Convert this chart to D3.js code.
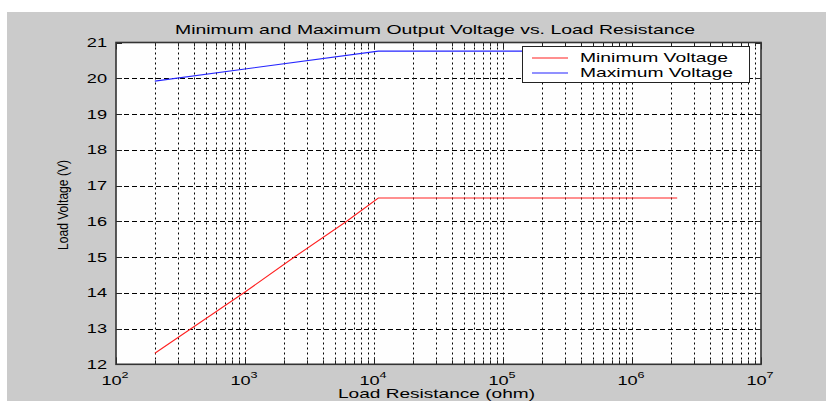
<!DOCTYPE html>
<html><head><meta charset="utf-8">
<script src="https://cdn.jsdelivr.net/npm/d3@7"></script>
<style>body{margin:0;background:#fff;}svg{display:block;}text{font-family:Arial,"Liberation Sans",sans-serif;fill:#000;}</style>
</head><body><svg id="c" width="826" height="401"></svg>
<script>
// Data
const titleText = "Minimum and Maximum Output Voltage vs. Load Resistance";
const xLabel = "Load Resistance (ohm)";
const yLabel = "Load Voltage (V)";
const seriesNames = ["Minimum Voltage", "Maximum Voltage"];
const minR = [200, 1000, 2415, 6140, 10800, 2240000];
const minV = [12.31, 14.02, 15.0, 16.0, 16.65, 16.65];
const maxR = [200, 1000, 10800, 2240000];
const maxV = [19.92, 20.26, 20.76, 20.76];
const xDomain = [1e2, 1e7];
const yDomain = [12, 21];
const yTicks = [12, 13, 14, 15, 16, 17, 18, 19, 20, 21];
const xExponents = [2, 3, 4, 5, 6, 7];

const svg = d3.select("#c");
const L = 116, R = 761, T = 42.5, B = 364.3;
const x = d3.scaleLog().domain(xDomain).range([L, R]);
const y = d3.scaleLinear().domain(yDomain).range([B, T]);

// figure background
svg.append("rect").attr("x", 7).attr("y", 12).attr("width", 826 - 7).attr("height", 401 - 12).attr("fill", "#cbcbcb");
svg.append("rect").attr("x", L).attr("y", T).attr("width", R - L).attr("height", B - T).attr("fill", "#fefefe");

// grid
const minorTicks = x.ticks().filter(v => v > xDomain[0] && v < xDomain[1]);
svg.append("g").selectAll("line").data(minorTicks).join("line")
  .attr("x1", d => Math.round(x(d)) + 0.5).attr("x2", d => Math.round(x(d)) + 0.5)
  .attr("y1", T).attr("y2", B)
  .attr("stroke", "#000").attr("stroke-width", 1).attr("stroke-dasharray", "2,3");
svg.append("g").selectAll("line").data(yTicks.slice(1, -1)).join("line")
  .attr("x1", L).attr("x2", R)
  .attr("y1", d => Math.round(y(d)) + 0.5).attr("y2", d => Math.round(y(d)) + 0.5)
  .attr("stroke", "#000").attr("stroke-width", 1).attr("stroke-dasharray", "5,3");

// ticks
const decades = xExponents.map(e => Math.pow(10, e));
const tk = svg.append("g").attr("stroke", "#222").attr("stroke-width", 1);
decades.forEach(d => {
  const px = Math.round(x(d)) + 0.5;
  tk.append("line").attr("x1", px).attr("x2", px).attr("y1", B).attr("y2", B - 7);
  tk.append("line").attr("x1", px).attr("x2", px).attr("y1", T).attr("y2", T + 7);
});
minorTicks.forEach(d => {
  const px = Math.round(x(d)) + 0.5;
  tk.append("line").attr("x1", px).attr("x2", px).attr("y1", B).attr("y2", B - 4);
  tk.append("line").attr("x1", px).attr("x2", px).attr("y1", T).attr("y2", T + 4);
});
yTicks.forEach(d => {
  const py = Math.round(y(d)) + 0.5;
  tk.append("line").attr("x1", L).attr("x2", L + 6).attr("y1", py).attr("y2", py);
  tk.append("line").attr("x1", R).attr("x2", R - 6).attr("y1", py).attr("y2", py);
});

// lines
const line = d3.line().x(d => x(d[0])).y(d => y(d[1]));
svg.append("path").datum(d3.zip(minR, minV)).attr("d", line)
  .attr("fill", "none").attr("stroke", "#ff2020").attr("stroke-width", 1.1);
svg.append("path").datum(d3.zip(maxR, maxV)).attr("d", line)
  .attr("fill", "none").attr("stroke", "#2525ff").attr("stroke-width", 1.1);

// axes box
svg.append("rect").attr("x", L).attr("y", T).attr("width", R - L).attr("height", B - T)
  .attr("fill", "none").attr("stroke", "#333").attr("stroke-width", 1.6);

// y tick labels
yTicks.forEach(d => {
  svg.append("text").attr("transform", `translate(107,${y(d) + 4.5}) scale(1.4,1)`)
    .attr("text-anchor", "end").attr("font-size", 13).text(d);
});
// x tick labels
xExponents.forEach(e => {
  const t = svg.append("text").attr("transform", `translate(${x(Math.pow(10, e)) - 1},385) scale(1.4,1)`)
    .attr("text-anchor", "middle").attr("font-size", 13);
  t.append("tspan").text("10");
  t.append("tspan").attr("dy", -7).attr("font-size", 9).text(e);
});

// title and labels
svg.append("text").attr("x", 175).attr("y", 33.5).attr("font-size", 13)
  .attr("textLength", 520).attr("lengthAdjust", "spacingAndGlyphs").text(titleText);
svg.append("text").attr("x", 338).attr("y", 398.3).attr("font-size", 13)
  .attr("textLength", 197).attr("lengthAdjust", "spacingAndGlyphs").text(xLabel);
svg.append("text").attr("transform", "translate(68,250) rotate(-90)").attr("font-size", 14)
  .attr("textLength", 90).attr("lengthAdjust", "spacingAndGlyphs").text(yLabel);

// legend
const lg = svg.append("g");
lg.append("rect").attr("x", 522.5).attr("y", 46.5).attr("width", 227).attr("height", 36)
  .attr("fill", "#fff").attr("stroke", "#222").attr("stroke-width", 1);
const colors = ["#ff2020", "#2525ff"];
seriesNames.forEach((n, i) => {
  const ly = 58 + i * 15;
  lg.append("line").attr("x1", 532).attr("x2", 568).attr("y1", ly).attr("y2", ly)
    .attr("stroke", colors[i]).attr("stroke-width", 1.1);
  lg.append("text").attr("x", 580).attr("y", ly + 4).attr("font-size", 13)
    .attr("textLength", i === 0 ? 148 : 153).attr("lengthAdjust", "spacingAndGlyphs").text(n);
});
</script></body></html>
